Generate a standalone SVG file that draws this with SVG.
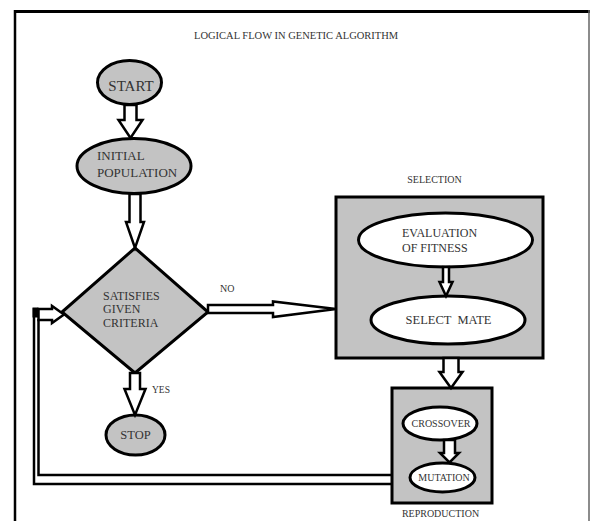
<svg xmlns="http://www.w3.org/2000/svg" width="590" height="521" viewBox="0 0 590 521">
<style>
  text { font-family: "Liberation Serif", "Tinos", "DejaVu Serif", "Times New Roman", serif; fill: #333; }
  .gray { fill: #c3c3c3; stroke: #000; stroke-width: 3; }
  .white { fill: #fff; stroke: #000; stroke-width: 3; }
  .arrow { fill: #fff; stroke: #000; stroke-width: 2.5; stroke-linejoin: miter; }
  .line { fill: none; stroke: #000; stroke-width: 2.5; }
</style>
<rect x="0" y="0" width="590" height="521" fill="#fff"/>
<g id="frame">
  <line x1="14" y1="11.5" x2="590" y2="11.5" stroke="#000" stroke-width="3"/>
  <line x1="15" y1="10" x2="15" y2="521" stroke="#000" stroke-width="2.5"/>
  <line x1="589" y1="10" x2="589" y2="521" stroke="#666" stroke-width="1.5"/>
</g>
<text id="title" x="194" y="39" font-size="10.5">LOGICAL FLOW IN GENETIC ALGORITHM</text>

<g id="start">
  <ellipse class="gray" cx="129.5" cy="82.5" rx="32" ry="22"/>
  <text x="131" y="91" font-size="15" text-anchor="middle">START</text>
</g>
<g id="initial">
  <ellipse class="gray" cx="134" cy="166" rx="57" ry="27.5"/>
  <text x="97" y="160" font-size="13">INITIAL</text>
  <text x="97" y="177" font-size="13">POPULATION</text>
</g>
<g id="decision">
  <polygon class="gray" points="135,248 208,312 135,373 62,312"/>
  <text x="103" y="300" font-size="12">SATISFIES</text>
  <text x="103" y="313" font-size="12">GIVEN</text>
  <text x="103" y="327" font-size="12">CRITERIA</text>
</g>
<g id="stop">
  <ellipse class="gray" cx="135.5" cy="435" rx="29.5" ry="20"/>
  <text x="135.5" y="439" font-size="12.5" text-anchor="middle">STOP</text>
</g>

<g id="selection">
  <text x="434.5" y="183" font-size="10" text-anchor="middle">SELECTION</text>
  <rect class="gray" x="336" y="197" width="207" height="161"/>
</g>
<g id="evaluation">
  <ellipse class="white" cx="445.5" cy="240" rx="87" ry="27"/>
  <text x="402" y="237" font-size="12">EVALUATION</text>
  <text x="402" y="252" font-size="12">OF FITNESS</text>
</g>
<g id="selectmate">
  <ellipse class="white" cx="448" cy="320" rx="77" ry="24"/>
  <text x="448.5" y="324" font-size="12.5" text-anchor="middle" xml:space="preserve">SELECT  MATE</text>
</g>

<g id="reproduction">
  <rect class="gray" x="392" y="388" width="100" height="115"/>
  <text x="440.5" y="517" font-size="10" text-anchor="middle">REPRODUCTION</text>
</g>
<g id="crossover">
  <ellipse class="white" cx="440" cy="423.5" rx="37" ry="16.5"/>
  <text x="441" y="427" font-size="10" text-anchor="middle">CROSSOVER</text>
</g>
<g id="mutation">
  <ellipse class="white" cx="442.5" cy="477.5" rx="32.5" ry="14.5"/>
  <text x="444" y="481" font-size="10" text-anchor="middle">MUTATION</text>
</g>

<g id="connectors">
  <!-- START -> INITIAL -->
  <polygon class="arrow" points="124.5,105 136.5,105 136.5,120 142.5,120 130.5,138 118.5,120 124.5,120"/>
  <!-- INITIAL -> DIAMOND -->
  <polygon class="arrow" points="129.5,194 140.5,194 140.5,222 144,222 135,248 126,222 129.5,222"/>
  <!-- DIAMOND -> STOP -->
  <polygon class="arrow" points="130,373 140,373 140,389 145.5,389 135,415 124.5,389 130,389"/>
  <!-- NO -> SELECTION -->
  <polygon class="arrow" points="208,305 273,305 273,301.5 336,309 273,317 273,313 208,313"/>
  <!-- EVAL -> SELECT MATE -->
  <polygon class="arrow" points="443,267 449,267 449,282 452.5,282 446,296 439.5,282 443,282"/>
  <!-- SELECTION -> REPRODUCTION -->
  <polygon class="arrow" points="443.5,358 458.5,358 458.5,372 462.5,372 451,388 439.5,372 443.5,372"/>
  <!-- CROSSOVER -> MUTATION -->
  <polygon class="arrow" points="444,440 455,440 455,453 459,453 449.5,462.5 440,453 444,453"/>
  <!-- loop back -->
  <polyline class="line" points="392,484 34,484 34,308"/>
  <polyline class="line" points="392,475 38.5,475 38.5,319"/>
  <rect x="32.5" y="307.5" width="6" height="10" fill="#000"/>
  <polygon class="arrow" points="38.5,309 52,309 52,306 64,314.5 52,323 52,320 38.5,320"/>
  <text x="220" y="292" font-size="10">NO</text>
  <text x="152" y="393" font-size="9.5">YES</text>
</g>
</svg>
